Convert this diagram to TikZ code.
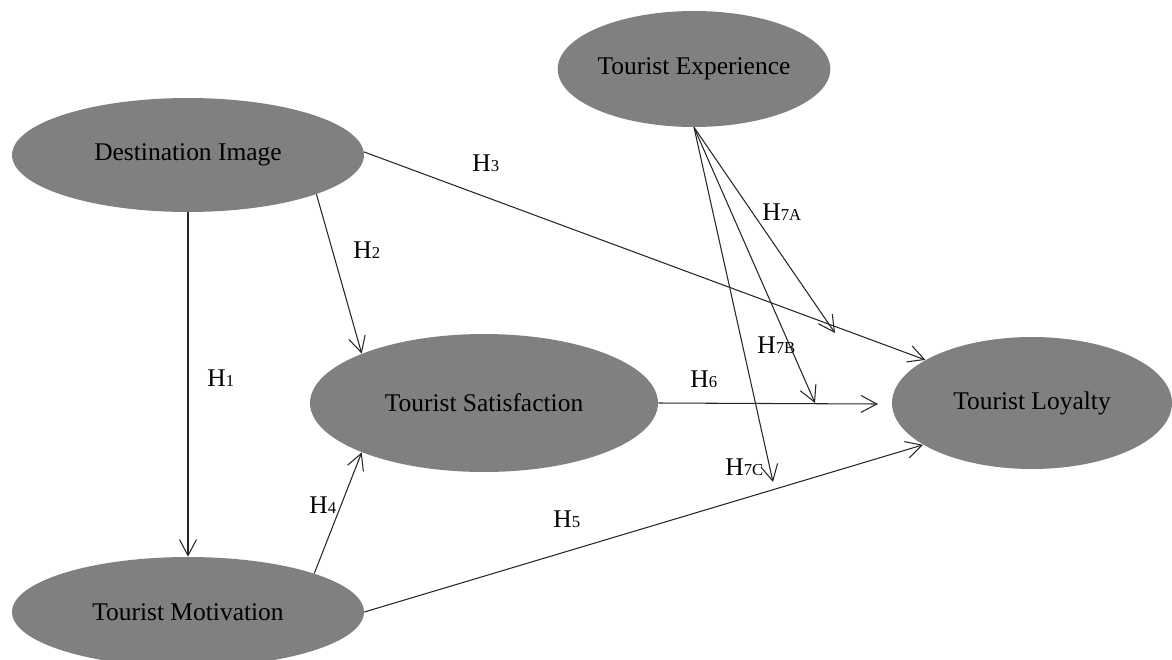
\documentclass[tikz,border=0pt]{standalone}
\usepackage{fontspec}
\setmainfont{Liberation Serif}
\usetikzlibrary{shapes.geometric,arrows.meta}
\definecolor{ellgray}{RGB}{128,128,128}
\tikzset{
  construct/.style={ellipse, fill=ellgray, draw=none, inner sep=0pt,
    font=\fontsize{14.5}{16}\selectfont, text=black},
  path/.style={draw=black!85, line width=0.6pt,
    -{Straight Barb[length=3.2mm,width=3.4mm,line width=0.6pt]}},
  hlabel/.style={anchor=base west, inner sep=0pt, font=\fontsize{14.5}{16}\selectfont},
}
\newcommand{\hyp}[1]{H{\fontsize{9.5}{11}\selectfont #1}}
\begin{document}
\begin{tikzpicture}[x=0.02cm, y=-0.02cm]
\useasboundingbox (0,0) rectangle (1172,659);
\node[construct, minimum width=7.04cm, minimum height=2.28cm] (DI) at (188,155) {Destination Image};
\node[construct, minimum width=4.56cm, minimum height=2.32cm] (TE) at (694,69) {Tourist Experience};
\node[construct, minimum width=6.96cm, minimum height=2.76cm] (TS) at (484,403) {Tourist Satisfaction};
\node[construct, minimum width=7.04cm, minimum height=2.2cm] (TM) at (188,612) {Tourist Motivation};
\node[construct, minimum width=5.6cm, minimum height=2.64cm] (TL) at (1032,403) {Tourist Loyalty};
\coordinate (e6) at (878,404);
\coordinate (e7a) at (835,333);
\coordinate (e7b) at (815,403);
\coordinate (e7c) at (773,482);
\draw[path] (DI.south) -- (TM.north);
\draw[path] (DI.-17.5) -- (TS.158.5);
\draw[path] (DI.1.6) -- (TL.158);
\draw[path] (TM.17.3) -- (TS.202.3);
\draw[path] (TM.0.7) -- (TL.201.5);
\draw[path] (TS.east) -- (e6);
\draw[path] (TE.south) -- (e7a);
\draw[path] (TE.south) -- (e7b);
\draw[path] (TE.south) -- (e7c);
\node[hlabel] (h1) at (207,386) {\hyp{1}};
\node[hlabel] (h2) at (353,258) {\hyp{2}};
\node[hlabel] (h3) at (472,171) {\hyp{3}};
\node[hlabel] (h4) at (309,513) {\hyp{4}};
\node[hlabel] (h5) at (553,527) {\hyp{5}};
\node[hlabel] (h6) at (690,387) {\hyp{6}};
\node[hlabel] (h7a) at (762,220) {\hyp{7A}};
\node[hlabel] (h7b) at (757,353) {\hyp{7B}};
\node[hlabel] (h7c) at (725,475) {\hyp{7C}};
\end{tikzpicture}
\end{document}
